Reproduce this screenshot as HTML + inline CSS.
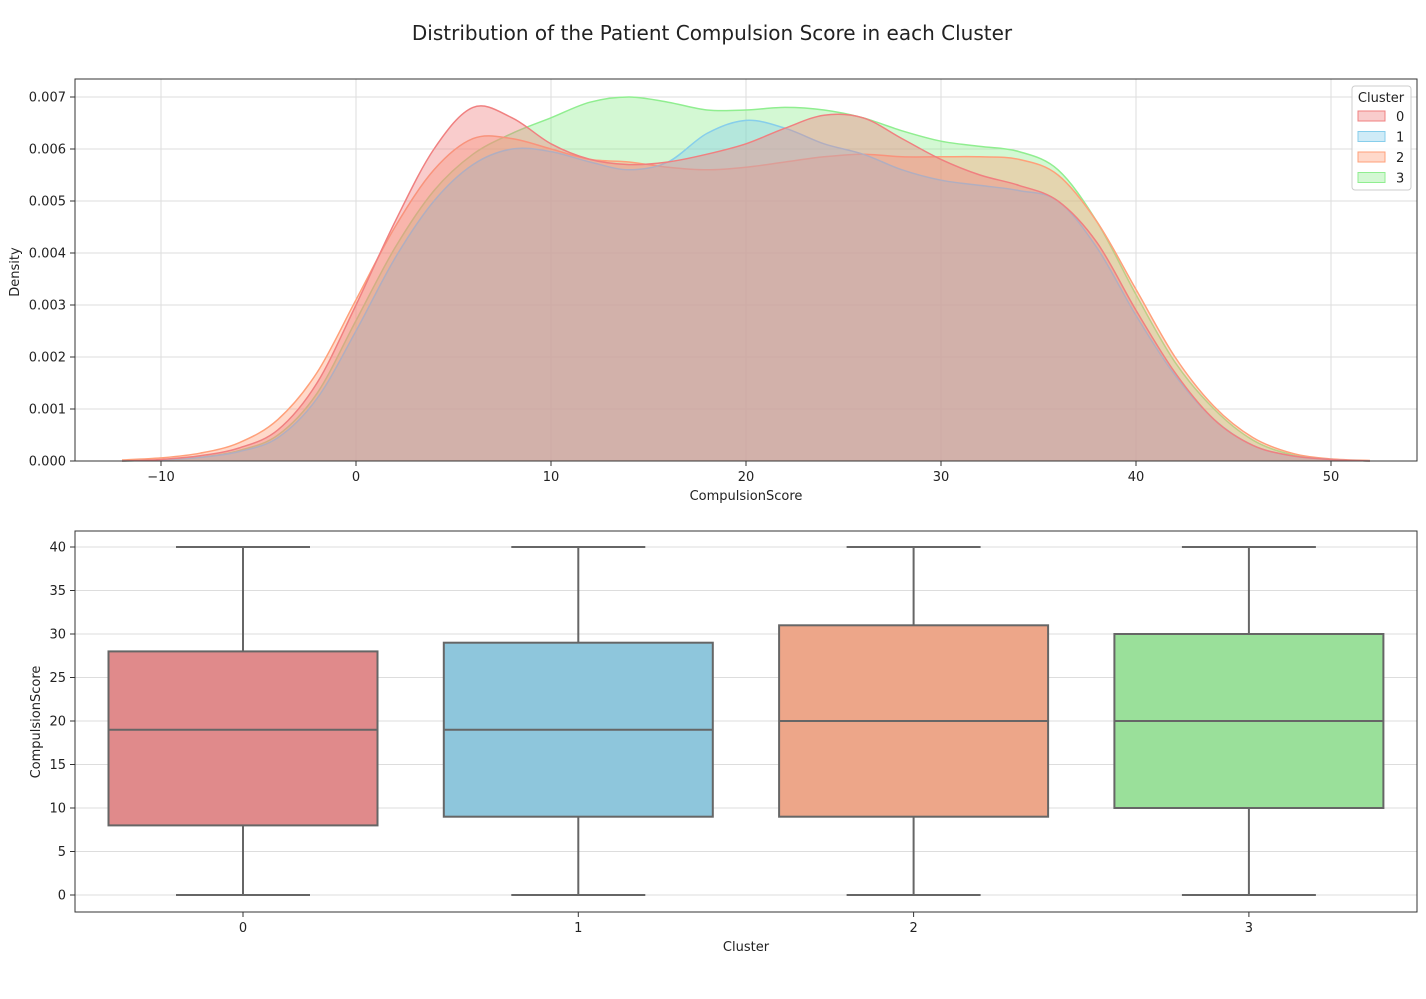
<!DOCTYPE html>
<html><head><meta charset="utf-8"><style>
body{margin:0;background:#fff;font-family:"Liberation Sans","DejaVu Sans",sans-serif;}
svg text{font-family:"DejaVu Sans","Liberation Sans",sans-serif;}
</style></head><body>
<svg id="c" width="1426" height="994" xmlns="http://www.w3.org/2000/svg">
<text x="712" y="40" text-anchor="middle" font-size="20" fill="#222">Distribution of the Patient Compulsion Score in each Cluster</text>
<g id="topg"></g><g id="botg"></g>
</svg>
<script>
const kdeX=[-12,-10,-8,-6,-4,-2,0,2,4,6,8,10,12,14,16,18,20,22,24,26,28,30,32,34,36,38,40,42,44,46,48,50,52];
const dens0=[0,0.03,0.1,0.25,0.6,1.5,3.0,4.6,6.0,6.8,6.6,6.1,5.8,5.7,5.75,5.9,6.1,6.4,6.65,6.6,6.2,5.8,5.5,5.3,5.0,4.2,2.9,1.7,0.8,0.3,0.1,0.03,0];
const dens1=[0,0.02,0.07,0.18,0.45,1.2,2.5,3.9,5.0,5.7,6.0,5.95,5.75,5.6,5.75,6.3,6.55,6.4,6.1,5.9,5.6,5.4,5.3,5.2,5.0,4.1,2.8,1.65,0.8,0.3,0.1,0.03,0];
const dens2=[0.02,0.06,0.15,0.35,0.8,1.7,3.1,4.5,5.6,6.2,6.2,6.0,5.8,5.75,5.65,5.6,5.65,5.75,5.85,5.9,5.85,5.85,5.85,5.8,5.5,4.6,3.3,2.0,1.05,0.45,0.15,0.04,0.01];
const dens3=[0,0.02,0.07,0.2,0.5,1.3,2.7,4.1,5.2,5.9,6.3,6.6,6.9,7.0,6.9,6.75,6.75,6.8,6.75,6.6,6.35,6.15,6.05,5.95,5.6,4.6,3.2,1.9,1.0,0.4,0.12,0.03,0];
const clusters=["0","1","2","3"];
const xTicks=[-10,0,10,20,30,40,50];
const yTicksTop=[0,0.001,0.002,0.003,0.004,0.005,0.006,0.007];
const boxMin=[0,0,0,0];
const boxQ1=[8,9,9,10];
const boxMed=[19,19,20,20];
const boxQ3=[28,29,31,30];
const boxMax=[40,40,40,40];
const yTicksBot=[0,5,10,15,20,25,30,35,40];

const NS="http://www.w3.org/2000/svg";
function mk(parent,tag,attrs,text){const e=document.createElementNS(NS,tag);for(const k in attrs)e.setAttribute(k,attrs[k]);if(text!==undefined)e.textContent=text;parent.appendChild(e);return e;}
const lineCols=["#f08080","#87ceeb","#ffa07a","#90ee90"];
const boxCols=["#e08a8b","#8ec6dc","#eda689","#9ae09a"];

const T={l:75,r:1417,t:79,b:461};
const xs=v=>356+(v-0)*19.5;
const ys=v=>461-v*52000;
const topG=document.getElementById('topg');
xTicks.forEach(v=>{
  const g=mk(topG,'line',{x1:xs(v),x2:xs(v),y1:T.t,y2:T.b,stroke:'#ddd','stroke-width':1});
  
  const tk=mk(topG,'line',{x1:xs(v),x2:xs(v),y1:T.b,y2:T.b+5,stroke:'#333'});
  
  const t=mk(topG,'text',{x:xs(v),y:T.b+20,'text-anchor':'middle','font-size':13,fill:'#222'},v<0?'\u2212'+(-v):String(v));
  
});
yTicksTop.forEach(v=>{
  const g=mk(topG,'line',{x1:T.l,x2:T.r,y1:ys(v),y2:ys(v),stroke:'#ddd'});
  
  const tk=mk(topG,'line',{x1:T.l-5,x2:T.l,y1:ys(v),y2:ys(v),stroke:'#333'});
  
  const t=mk(topG,'text',{x:T.l-9,y:ys(v)+4.5,'text-anchor':'end','font-size':13,fill:'#222'},v.toFixed(3));
  
});
function smooth(pts){let d=`M${pts[0][0]},${pts[0][1]}`;for(let i=0;i<pts.length-1;i++){const p0=pts[Math.max(0,i-1)],p1=pts[i],p2=pts[i+1],p3=pts[Math.min(pts.length-1,i+2)];
 d+=` C${p1[0]+(p2[0]-p0[0])/6},${p1[1]+(p2[1]-p0[1])/6} ${p2[0]-(p3[0]-p1[0])/6},${p2[1]-(p3[1]-p1[1])/6} ${p2[0]},${p2[1]}`;}return d;}
const densAll=[dens0,dens1,dens2,dens3];
[3,2,1,0].forEach(i=>{
  const arr=densAll[i];
  const pts=kdeX.map((x,j)=>[xs(x),ys(arr[j]/1000)]);
  const d=smooth(pts);
  const a=mk(topG,'path',{d:d+` L${xs(kdeX[kdeX.length-1])},${T.b} L${xs(kdeX[0])},${T.b} Z`,fill:lineCols[i],'fill-opacity':0.4,stroke:'none'});
  
  const l=mk(topG,'path',{d:d,fill:'none',stroke:lineCols[i],'stroke-width':1.5});
  
});
const fr=mk(topG,'rect',{x:T.l,y:T.t,width:T.r-T.l,height:T.b-T.t,fill:'none',stroke:'#333','stroke-width':1});

const xl=mk(topG,'text',{x:746,y:500,'text-anchor':'middle','font-size':13,fill:'#222'},'CompulsionScore');

const yl=mk(topG,'text',{x:19,y:272,'text-anchor':'middle','font-size':13,fill:'#222',transform:'rotate(-90 19 272)'},'Density');

const lg=mk(topG,'g',{});

const lb=mk(lg,'rect',{x:1352,y:86,width:59,height:104,rx:3,fill:'#fff','fill-opacity':0.85,stroke:'#ccc'});

const lt=mk(lg,'text',{x:1381,y:102,'text-anchor':'middle','font-size':13,fill:'#222'},'Cluster');

clusters.forEach((c,i)=>{
  const y=117+i*20.5;
  const r=mk(lg,'rect',{x:1358,y:y-6,width:27,height:10,fill:lineCols[i],'fill-opacity':0.4,stroke:lineCols[i]});
  
  const t=mk(lg,'text',{x:1396,y:y+4,'font-size':13,fill:'#222'},c);
  
});

const B={l:75,r:1417,t:531,b:912};
const bx=i=>243+i*335.3;
const by=v=>895-v*8.7;
const botG=document.getElementById('botg');
yTicksBot.forEach(v=>{
  const g=mk(botG,'line',{x1:B.l,x2:B.r,y1:by(v),y2:by(v),stroke:'#ddd'});
  
  const tk=mk(botG,'line',{x1:B.l-5,x2:B.l,y1:by(v),y2:by(v),stroke:'#333'});
  
  const t=mk(botG,'text',{x:B.l-9,y:by(v)+4.5,'text-anchor':'end','font-size':13,fill:'#222'},String(v));
  
});
clusters.forEach((c,i)=>{
  const cx=bx(i),hw=134.5,cw=67;
  const tk=mk(botG,'line',{x1:cx,x2:cx,y1:B.b,y2:B.b+5,stroke:'#333'});
  
  const t=mk(botG,'text',{x:cx,y:B.b+20,'text-anchor':'middle','font-size':13,fill:'#222'},c);
  
  const w1=mk(botG,'line',{x1:cx,x2:cx,y1:by(boxMin[i]),y2:by(boxQ1[i]),stroke:'#666','stroke-width':2});
  
  const w2=mk(botG,'line',{x1:cx,x2:cx,y1:by(boxQ3[i]),y2:by(boxMax[i]),stroke:'#666','stroke-width':2});
  
  const c1=mk(botG,'line',{x1:cx-cw,x2:cx+cw,y1:by(boxMin[i]),y2:by(boxMin[i]),stroke:'#666','stroke-width':2});
  
  const c2=mk(botG,'line',{x1:cx-cw,x2:cx+cw,y1:by(boxMax[i]),y2:by(boxMax[i]),stroke:'#666','stroke-width':2});
  
  const r=mk(botG,'rect',{x:cx-hw,y:by(boxQ3[i]),width:2*hw,height:by(boxQ1[i])-by(boxQ3[i]),fill:boxCols[i],stroke:'#666','stroke-width':2});
  
  const m=mk(botG,'line',{x1:cx-hw,x2:cx+hw,y1:by(boxMed[i]),y2:by(boxMed[i]),stroke:'#666','stroke-width':2});
  
});
const fr2=mk(botG,'rect',{x:B.l,y:B.t,width:B.r-B.l,height:B.b-B.t,fill:'none',stroke:'#333'});

const bxl=mk(botG,'text',{x:746,y:951,'text-anchor':'middle','font-size':13,fill:'#222'},'Cluster');

const byl=mk(botG,'text',{x:40,y:722,'text-anchor':'middle','font-size':13,fill:'#222',transform:'rotate(-90 40 722)'},'CompulsionScore');

</script>
</body></html>
